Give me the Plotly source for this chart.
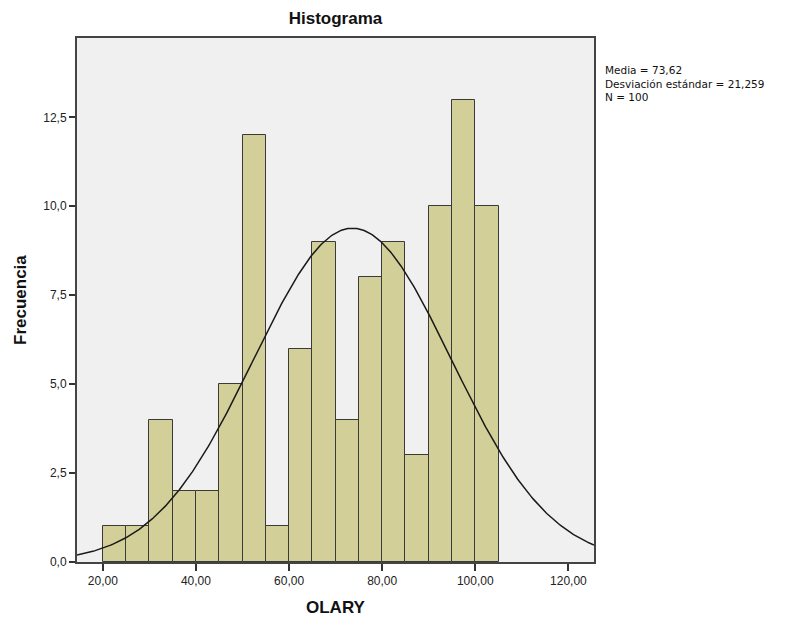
import numpy as np
import plotly.graph_objects as go

# Data
bin_starts = [20, 25, 30, 35, 40, 45, 50, 55, 60, 65, 70, 75, 80, 85, 90, 95, 100]
counts = [1, 1, 4, 2, 2, 5, 12, 1, 6, 9, 4, 8, 9, 3, 10, 13, 10]
bin_width = 5
mean_val = 73.62
sd_val = 21.259
n_val = 100
x_ticks = [20, 40, 60, 80, 100, 120]
y_ticks = [0, 2.5, 5, 7.5, 10, 12.5]

centers = [b + bin_width / 2 for b in bin_starts]

xr = [14.45, 125.5]
xs = np.linspace(xr[0], xr[1], 400)
ys = n_val * bin_width / (sd_val * np.sqrt(2 * np.pi)) * np.exp(-0.5 * ((xs - mean_val) / sd_val) ** 2)

fig = go.Figure()
fig.add_trace(go.Bar(
    x=centers, y=counts, width=bin_width,
    marker=dict(color="#d3cf98", line=dict(color="#3a3a3a", width=1)),
    hoverinfo="x+y", showlegend=False,
))
fig.add_trace(go.Scatter(
    x=xs, y=ys, mode="lines", line=dict(color="#1a1a1a", width=1.5),
    showlegend=False, hoverinfo="skip",
))

font_family = "Liberation Sans, Arial, sans-serif"

L, R, T, B = 77, 594, 38, 562
W, H = 785, 620

def px_to_paper_x(px):
    return (px - L) / (R - L)

def px_to_paper_y(py):
    return (B - py) / (B - T)

stats_text = "<br>".join([
    f"Media = {mean_val:.2f}".replace(".", ","),
    f"Desviación estándar = {sd_val:.3f}".replace(".", ","),
    f"N = {n_val}",
])

annotations = [
    dict(
        xref="paper", yref="paper",
        x=px_to_paper_x(603), y=px_to_paper_y(62),
        xanchor="left", yanchor="top", align="left", showarrow=False,
        text=stats_text, font=dict(family="DejaVu Sans, sans-serif", size=10.5, color="#111111"),
    ),
    dict(
        xref="paper", yref="paper", x=0.5, y=px_to_paper_y(607),
        xanchor="center", yanchor="middle", showarrow=False,
        text="<b>OLARY</b>", font=dict(size=17, color="#111111"),
    ),
    dict(
        xref="paper", yref="paper", x=px_to_paper_x(20), y=0.5,
        xanchor="center", yanchor="middle", showarrow=False, textangle=-90,
        text="<b>Frecuencia</b>", font=dict(size=17, color="#111111"),
    ),
]

fig.update_layout(
    width=W, height=H,
    margin=dict(l=L, r=W - R, t=T, b=H - B),
    paper_bgcolor="white",
    plot_bgcolor="#f0f0f0",
    separators=",.",
    font=dict(family=font_family, size=12, color="#222222"),
    title=dict(text="<b>Histograma</b>", x=(L + R) / 2 / W, xanchor="center",
               y=1 - 18 / H, yanchor="middle", font=dict(size=17, color="#111111")),
    bargap=0,
    xaxis=dict(
        range=xr, tickvals=x_ticks, tickformat=".2f", automargin=False,
        showgrid=False, zeroline=False,
        showline=True, linecolor="#444444", linewidth=2, mirror=True,
        ticks="outside", ticklen=7, tickcolor="#333333", tickwidth=1.5,
        tickfont=dict(size=12, color="#222222"),
    ),
    yaxis=dict(
        range=[0, 14.73], tickvals=y_ticks, tickformat=".1f", automargin=False,
        showgrid=False, zeroline=False,
        showline=True, linecolor="#444444", linewidth=2, mirror=True,
        ticks="outside", ticklen=6, tickcolor="#333333", tickwidth=1.5,
        tickfont=dict(size=12, color="#222222"),
    ),
    annotations=annotations,
)

fig.write_html("out.html")
